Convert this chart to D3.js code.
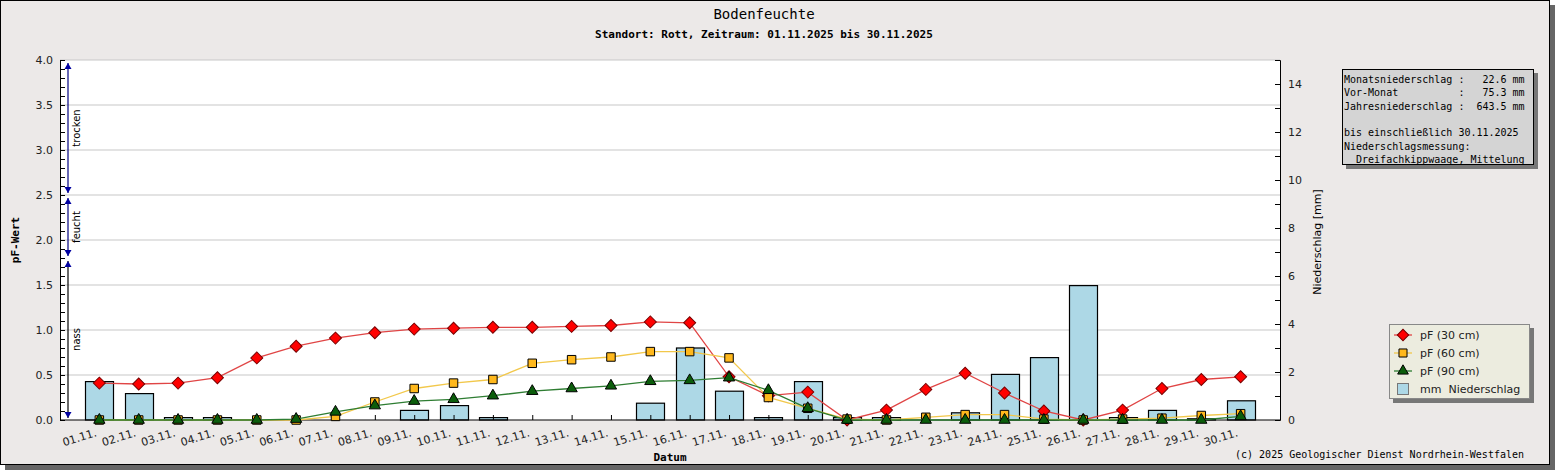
<!DOCTYPE html>
<html>
<head>
<meta charset="utf-8">
<script src="https://cdn.jsdelivr.net/npm/d3@7"></script>
<style>
  body { margin: 0; background: #fff; }
  svg { display: block; }
  .mono { font-family: "DejaVu Sans Mono", monospace; }
  .sans { font-family: "DejaVu Sans", sans-serif; }
</style>
</head>
<body>
<svg id="chart"></svg>
<script>
// --- data ---
const days = ['01.11.', '02.11.', '03.11.', '04.11.', '05.11.', '06.11.', '07.11.', '08.11.', '09.11.', '10.11.',
	'11.11.', '12.11.', '13.11.', '14.11.', '15.11.', '16.11.', '17.11.', '18.11.', '19.11.', '20.11.',
	'21.11.', '22.11.', '23.11.', '24.11.', '25.11.', '26.11.', '27.11.', '28.11.', '29.11.', '30.11.'];

const pf30 = [0.41, 0.40, 0.41, 0.47, 0.69, 0.82, 0.91, 0.97, 1.01, 1.02, 1.03, 1.03, 1.04, 1.05, 1.09,
	1.08, 0.48, 0.27, 0.31, 0.00, 0.11, 0.34, 0.52, 0.30, 0.10, 0.00, 0.11, 0.35, 0.45, 0.48];
const pf60 = [0, 0, 0, 0, 0, 0, 0.04, 0.20, 0.35, 0.41, 0.45, 0.63, 0.67, 0.70, 0.76,
	0.76, 0.69, 0.25, 0.13, 0.01, 0, 0.03, 0.06, 0.06, 0.01, 0, 0.01, 0.02, 0.05, 0.07];
const pf90 = [0, 0, 0, 0, 0, 0.01, 0.09, 0.16, 0.21, 0.23, 0.27, 0.32, 0.35, 0.38, 0.43,
	0.44, 0.47, 0.33, 0.13, 0, 0, 0, 0, 0, 0, 0, 0, 0, 0, 0.04];
const rain = [1.6, 1.1, 0.1, 0.1, 0, 0, 0, 0, 0.4, 0.6, 0.1, 0, 0, 0, 0.7,
	3.0, 1.2, 0.1, 1.6, 0.1, 0.1, 0, 0.3, 1.9, 2.6, 5.6, 0.1, 0.4, 0.05, 0.8];

const pfTicks = [0, 0.5, 1, 1.5, 2, 2.5, 3, 3.5, 4];
const rainTicks = [0, 2, 4, 6, 8, 10, 12, 14];

const zoneNames = ['trocken', 'feucht', 'nass'];
const zoneFrom = [2.5, 1.8, 0];
const zoneTo = [4.0, 2.5, 1.8];

const legendLabels = ['pF (30 cm)', 'pF (60 cm)', 'pF (90 cm)', 'mm  Niederschlag'];

const infoLines = [
	'Monatsniederschlag :   22.6 mm',
	'Vor-Monat          :   75.3 mm',
	'Jahresniederschlag :  643.5 mm',
	'',
	'bis einschließlich 30.11.2025',
	'Niederschlagsmessung:',
	'  Dreifachkippwaage, Mittelung'
];

// --- layout ---
const W = 1555, H = 470;
const plot = {left: 60, right: 1280, top: 60, bottom: 420};

const svg = d3.select('#chart')
	.attr('width', W)
	.attr('height', H);

// frame + shadow
svg.append('rect')
	.attr('x', 5).attr('y', 5)
	.attr('width', 1550).attr('height', 465)
	.attr('fill', '#666');
svg.append('rect')
	.attr('x', 0.5).attr('y', 0.5)
	.attr('width', 1549).attr('height', 464)
	.attr('fill', '#ece9e8')
	.attr('stroke', '#000');

svg.append('rect')
	.attr('x', plot.left).attr('y', plot.top)
	.attr('width', plot.right - plot.left).attr('height', plot.bottom - plot.top)
	.attr('fill', '#fff');

const x = d3.scalePoint()
	.domain(days)
	.range([plot.left, plot.right])
	.padding(1);

const yL = d3.scaleLinear().domain([0, 4]).range([plot.bottom, plot.top]);
const yR = d3.scaleLinear().domain([0, 15]).range([plot.bottom, plot.top]);

// grid
svg.append('g')
	.selectAll('line')
	.data(pfTicks.slice(1))
	.join('line')
	.attr('x1', plot.left).attr('x2', plot.right)
	.attr('y1', d => yL(d)).attr('y2', d => yL(d))
	.attr('stroke', '#c8c8c8')
	.attr('stroke-width', 1.2);

// precipitation bars
const barW = 28;
svg.append('g')
	.selectAll('rect')
	.data(rain.map((v, i) => ({day: days[i], v})).filter(d => d.v > 0))
	.join('rect')
	.attr('x', d => Math.round(x(d.day) - barW / 2) + 0.5)
	.attr('y', d => yR(d.v))
	.attr('width', barW)
	.attr('height', d => plot.bottom - yR(d.v))
	.attr('fill', '#add8e6')
	.attr('stroke', '#000')
	.attr('stroke-width', 1.2);

// axes
const leftAxis = d3.axisLeft(yL)
	.tickValues(d3.range(0, 41).map(d => d / 10))
	.tickSize(-5)
	.tickPadding(7)
	.tickFormat(d => pfTicks.includes(d) ? d3.format('.1f')(d) : '');

svg.append('g')
	.attr('transform', `translate(${plot.left},0)`)
	.attr('class', 'sans')
	.call(leftAxis)
	.call(g => g.select('.domain').attr('stroke', '#000'))
	.call(g => g.selectAll('text').attr('font-size', 11).attr('fill', '#222'));

const rightAxis = d3.axisRight(yR)
	.tickValues(d3.range(0, 16))
	.tickSize(-5)
	.tickPadding(8)
	.tickFormat(d => rainTicks.includes(d) ? d : '');

svg.append('g')
	.attr('transform', `translate(${plot.right},0)`)
	.attr('class', 'sans')
	.call(rightAxis)
	.call(g => g.selectAll('text').attr('font-size', 11).attr('fill', '#222'));

const bottomAxis = d3.axisBottom(x)
	.tickSize(-5)
	.tickFormat('');

svg.append('g')
	.attr('transform', `translate(0,${plot.bottom})`)
	.call(bottomAxis)
	.call(g => g.select('.domain').attr('d', `M${plot.left},0H${plot.right}`));

svg.append('g')
	.attr('class', 'sans')
	.selectAll('text')
	.data(days)
	.join('text')
	.attr('transform', d => `translate(${x(d) - 2},436) rotate(-17)`)
	.attr('text-anchor', 'end')
	.attr('font-size', 11)
	.attr('fill', '#222')
	.text(d => d);

// pF series
const line = d3.line()
	.x((d, i) => x(days[i]))
	.y(d => yL(d));

const series = [
	{values: pf30, line: '#e04545', fill: '#ff0000', stroke: '#700', symbol: d3.symbolSquare, size: 72, rot: 45},
	{values: pf60, line: '#f2c84b', fill: '#ffb81c', stroke: '#000', symbol: d3.symbolSquare, size: 72, rot: 0},
	{values: pf90, line: '#2e7d32', fill: '#0b5d0b', stroke: '#000', symbol: d3.symbolTriangle, size: 55, rot: 0}
];

series.forEach(s => {
	svg.append('path')
		.datum(s.values)
		.attr('d', line)
		.attr('fill', 'none')
		.attr('stroke', s.line)
		.attr('stroke-width', 1.3);

	svg.append('g')
		.selectAll('path')
		.data(s.values)
		.join('path')
		.attr('transform', (d, i) => `translate(${x(days[i])},${yL(d)}) rotate(${s.rot})`)
		.attr('d', d3.symbol(s.symbol, s.size))
		.attr('fill', s.fill)
		.attr('stroke', s.stroke)
		.attr('stroke-width', 1);
});

// zone arrows (trocken / feucht / nass)
const ax = 68;
const arrowUp = 'M0,0L-3.5,6L3.5,6Z';
const arrowDown = 'M0,0L-3.5,-6L3.5,-6Z';
zoneNames.forEach((name, i) => {
	const yTop = yL(zoneTo[i]) + 3;
	const yBot = yL(zoneFrom[i]) - 2;
	const g = svg.append('g');
	g.append('line')
		.attr('x1', ax).attr('x2', ax)
		.attr('y1', yTop).attr('y2', yBot)
		.attr('stroke', name === 'nass' ? '#000' : '#000080')
		.attr('stroke-width', 1.2);
	g.append('path')
		.attr('transform', `translate(${ax},${yTop})`)
		.attr('d', arrowUp)
		.attr('fill', '#0000a0');
	g.append('path')
		.attr('transform', `translate(${ax},${yBot})`)
		.attr('d', arrowDown)
		.attr('fill', '#0000a0');
	g.append('text')
		.attr('class', 'sans')
		.attr('transform', `translate(80,${(yTop + yBot) / 2}) rotate(-90)`)
		.attr('text-anchor', 'middle')
		.attr('font-size', 10)
		.text(name);
});

// titles
svg.append('text')
	.attr('class', 'mono')
	.attr('x', 764).attr('y', 19)
	.attr('text-anchor', 'middle')
	.attr('font-size', 14)
	.text('Bodenfeuchte');

svg.append('text')
	.attr('class', 'mono')
	.attr('x', 764).attr('y', 38)
	.attr('text-anchor', 'middle')
	.attr('font-size', 11)
	.attr('font-weight', 'bold')
	.text('Standort: Rott, Zeitraum: 01.11.2025 bis 30.11.2025');

svg.append('text')
	.attr('class', 'mono')
	.attr('x', 670).attr('y', 461)
	.attr('text-anchor', 'middle')
	.attr('font-size', 11)
	.attr('font-weight', 'bold')
	.text('Datum');

svg.append('text')
	.attr('class', 'mono')
	.attr('transform', 'translate(19,240) rotate(-90)')
	.attr('text-anchor', 'middle')
	.attr('font-size', 11)
	.attr('font-weight', 'bold')
	.text('pF-Wert');

svg.append('text')
	.attr('class', 'sans')
	.attr('transform', 'translate(1321,242) rotate(-90)')
	.attr('text-anchor', 'middle')
	.attr('font-size', 11)
	.text('Niederschlag [mm]');

svg.append('text')
	.attr('class', 'mono')
	.attr('x', 1524).attr('y', 458)
	.attr('text-anchor', 'end')
	.attr('font-size', 10)
	.text('(c) 2025 Geologischer Dienst Nordrhein-Westfalen');

// info box
const info = svg.append('g').attr('transform', 'translate(1342,69)');
info.append('rect')
	.attr('x', 4).attr('y', 4)
	.attr('width', 192).attr('height', 96)
	.attr('fill', '#777');
info.append('rect')
	.attr('x', 0.5).attr('y', 0.5)
	.attr('width', 191).attr('height', 95)
	.attr('fill', '#d4d4d4')
	.attr('stroke', '#000');
info.selectAll('text')
	.data(infoLines)
	.join('text')
	.attr('class', 'mono')
	.attr('x', 2)
	.attr('y', (d, i) => 14 + i * 13.3)
	.attr('font-size', 10)
	.style('white-space', 'pre')
	.text(d => d);

// legend
const legend = svg.append('g').attr('transform', 'translate(1389,324)');
legend.append('rect')
	.attr('x', 4).attr('y', 4)
	.attr('width', 141).attr('height', 75)
	.attr('fill', '#777');
legend.append('rect')
	.attr('x', 0.5).attr('y', 0.5)
	.attr('width', 140).attr('height', 74)
	.attr('fill', '#ececdf')
	.attr('stroke', '#888');

legendLabels.forEach((label, i) => {
	const cy = 11 + i * 18;
	const row = legend.append('g').attr('transform', `translate(14,${cy})`);
	if (i < 3) {
		const s = series[i];
		row.append('line')
			.attr('x1', -9).attr('x2', 9)
			.attr('stroke', s.line)
			.attr('stroke-width', 1.3);
		row.append('path')
			.attr('transform', `rotate(${s.rot})`)
			.attr('d', d3.symbol(s.symbol, s.size * 0.9))
			.attr('fill', s.fill)
			.attr('stroke', s.stroke);
	} else {
		row.append('rect')
			.attr('x', -5.5).attr('y', -5.5)
			.attr('width', 11).attr('height', 11)
			.attr('fill', '#add8e6')
			.attr('stroke', '#777');
	}
	row.append('text')
		.attr('class', 'sans')
		.attr('x', 17).attr('y', 4)
		.attr('font-size', 11)
		.attr('fill', '#222')
		.style('white-space', 'pre')
		.text(label);
});
</script>
</body>
</html>
